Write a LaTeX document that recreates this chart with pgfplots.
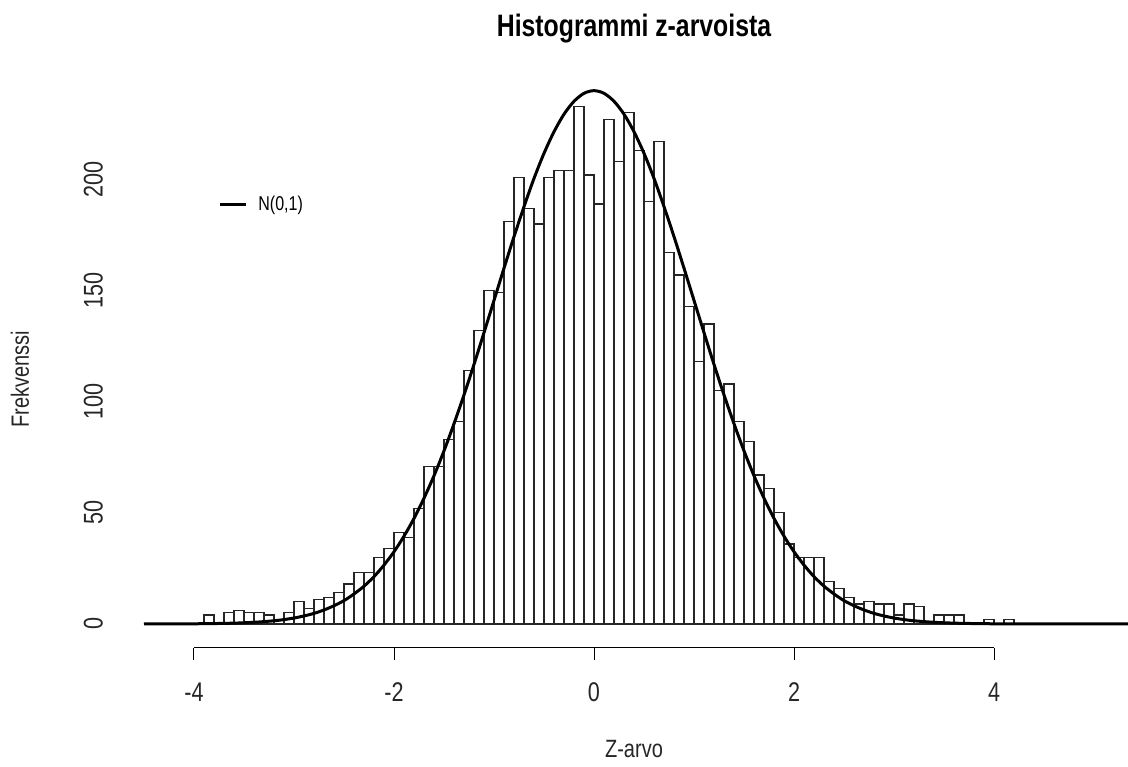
\documentclass[border=0pt]{standalone}
\usepackage{pgfplots}
\pgfplotsset{compat=1.18}
\usepackage{fontspec}
\setmainfont{Liberation Sans}[FakeStretch=0.8]

\pgfplotstableread{
x y
-3.9 4
-3.8 0
-3.7 5
-3.6 6
-3.5 5
-3.4 5
-3.3 4
-3.2 2
-3.1 5
-3.0 10
-2.9 7
-2.8 11
-2.7 12
-2.6 14
-2.5 18
-2.4 23
-2.3 23
-2.2 30
-2.1 34
-2.0 41
-1.9 39
-1.8 52
-1.7 71
-1.6 71
-1.5 83
-1.4 91
-1.3 114
-1.2 132
-1.1 150
-1.0 149
-0.9 181
-0.8 201
-0.7 187
-0.6 180
-0.5 201
-0.4 204
-0.3 204
-0.2 233
-0.1 202
0.0 189
0.1 227
0.2 208
0.3 230
0.4 213
0.5 190
0.6 217
0.7 167
0.8 157
0.9 143
1.0 118
1.1 135
1.2 105
1.3 108
1.4 91
1.5 82
1.6 67
1.7 61
1.8 50
1.9 36
2.0 30
2.1 30
2.2 30
2.3 19
2.4 16
2.5 12
2.6 9
2.7 10
2.8 9
2.9 9
3.0 4
3.1 9
3.2 8
3.3 1
3.4 4
3.5 4
3.6 4
3.7 0
3.8 0
3.9 2
4.0 0
4.1 2
4.2 0
}\histdata

\pgfplotstableread{
x y
-4.5 0
-4.0 0.08
-3.8 0.18
-3.6 0.37
-3.4 0.74
-3.2 1.43
-3.1 1.97
-3.0 2.67
-2.9 3.6
-2.8 4.76
-2.7 6.3
-2.6 8.2
-2.5 10.5
-2.4 13.5
-2.3 17.0
-2.2 21.3
-2.1 26.5
-2.0 32.5
-1.9 39.5
-1.8 47.5
-1.7 56.6
-1.6 66.7
-1.5 77.9
-1.4 90.1
-1.3 103.1
-1.2 116.8
-1.1 131.1
-1.0 145.6
-0.9 160.1
-0.8 174.3
-0.7 187.8
-0.6 200.5
-0.5 211.8
-0.4 221.5
-0.3 229.4
-0.2 235.2
-0.1 238.8
0.0 240.0
0.1 238.8
0.2 235.2
0.3 229.4
0.4 221.5
0.5 211.8
0.6 200.5
0.7 187.8
0.8 174.3
0.9 160.1
1.0 145.6
1.1 131.1
1.2 116.8
1.3 103.1
1.4 90.1
1.5 77.9
1.6 66.7
1.7 56.6
1.8 47.5
1.9 39.5
2.0 32.5
2.1 26.5
2.2 21.3
2.3 17.0
2.4 13.5
2.5 10.5
2.6 8.2
2.7 6.3
2.8 4.76
2.9 3.6
3.0 2.67
3.1 1.97
3.2 1.43
3.4 0.74
3.6 0.37
3.8 0.18
4.0 0.08
4.5 0
5.38 0
}\curvedata

\begin{document}
\begin{tikzpicture}
\begin{axis}[
  scale only axis,
  width=498pt, height=300.87pt,
  xmin=-4.58, xmax=5.38, ymin=-10.8, ymax=260,
  axis line style={draw=none},
  clip=false,
  xtick={-4,-2,0,2,4}, xticklabels={-4,-2,0,2,4},
  ytick={0,50,100,150,200}, yticklabels={0,50,100,150,200},
  xtick pos=bottom, ytick pos=left,
  tick align=outside,
  major tick length=6pt,
  xtick style={black, line width=0.5pt},
  ytick style={draw=none},
  ticklabel style={font=\fontsize{13.5}{14}\selectfont, text=black!85},
  xticklabel style={yshift=-8pt},
  yticklabel style={rotate=90, anchor=south, yshift=7pt},
  legend style={at={(axis cs:-3.76,188.6)}, anchor=west, draw=none, fill=none,
    inner sep=0pt, font=\fontsize{10}{10}\selectfont},
  legend image code/.code={\draw[line width=1.5pt] (0pt,0pt) -- (13pt,0pt);},
]
\addplot[ybar interval, fill=white, draw=black!85, line width=0.6pt, forget plot] table[x=x, y=y] {\histdata};
\addplot[black, line width=1.5pt, smooth] table[x=x, y=y] {\curvedata};
\addlegendentry{\hspace{3.5pt}N(0,1)}
\draw[line width=0.5pt] (axis cs:-4,-10.8) -- (axis cs:4,-10.8);
\node[font=\fontsize{15.5}{16}\selectfont\bfseries] at (axis cs:0.4,267.8) {Histogrammi z-arvoista};
\node[font=\fontsize{12.5}{13}\selectfont, text=black!85] at (axis cs:0.4,-56.25) {Z-arvo};
\node[font=\fontsize{12.5}{13}\selectfont, text=black!85, rotate=90] at (axis cs:-5.74,110) {Frekvenssi};
\coordinate (bl) at (axis cs:-5.94,-64.36);
\coordinate (tr) at (axis cs:5.34,280.8);
\end{axis}
\pgfresetboundingbox
\path[use as bounding box] (bl) rectangle (tr);
\end{tikzpicture}
\end{document}
